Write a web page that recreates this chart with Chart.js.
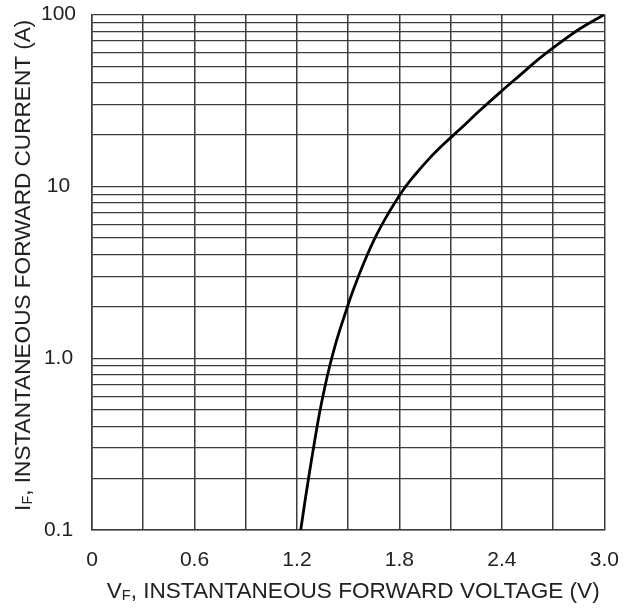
<!DOCTYPE html>
<html>
<head>
<meta charset="utf-8">
<script src="https://cdn.jsdelivr.net/npm/chart.js@4/dist/chart.umd.min.js"></script>
<style>
  html, body { margin: 0; padding: 0; background: #ffffff; }
  #wrap { width: 637px; height: 610px; }
</style>
</head>
<body>
<div id="wrap"><canvas id="c" width="637" height="610"></canvas></div>
<script>
// ---- data ----
const voltage = [1.222, 1.246, 1.275, 1.304, 1.333, 1.363, 1.392, 1.421, 1.450, 1.480, 1.509, 1.538, 1.567, 1.597, 1.655, 1.714, 1.772, 1.830, 1.889, 1.977, 2.064, 2.152, 2.269, 2.386, 2.503, 2.620, 2.737, 2.854, 3.0];
const current = [0.1, 0.145, 0.222, 0.332, 0.484, 0.677, 0.903, 1.16, 1.45, 1.79, 2.19, 2.62, 3.12, 3.69, 4.96, 6.40, 7.99, 9.78, 11.6, 14.6, 17.8, 21.4, 27.5, 35.0, 44.1, 55.5, 68.1, 82.3, 100];

const xTickValues = [0, 0.3, 0.6, 0.9, 1.2, 1.5, 1.8, 2.1, 2.4, 2.7, 3.0];
const xTickLabels = ['0', '', '0.6', '', '1.2', '', '1.8', '', '2.4', '', '3.0'];
const yGridValues = [0.1,0.2,0.3,0.4,0.5,0.6,0.7,0.8,0.9,1,2,3,4,5,6,7,8,9,10,20,30,40,50,60,70,80,90,100];
const yLabelValues = [0.1, 1, 10, 100];
const yTickLabels = ['0.1', '1.0', '10', '100'];

const xTitleParts = [{t:'V'}, {t:'F', sub:true}, {t:', INSTANTANEOUS FORWARD VOLTAGE (V)'}];
const yTitleParts = [{t:'I'}, {t:'F', sub:true}, {t:', INSTANTANEOUS FORWARD CURRENT (A)'}];

const FONT = '"Liberation Sans", Arial, sans-serif';
const TEXT = '#222222';
const GRID = '#3c3c3c';

function drawParts(ctx, parts, cx, cy) {
  const main = '22.6px ' + FONT, small = '14.5px ' + FONT;
  let w = 0;
  parts.forEach(p => { ctx.font = p.sub ? small : main; w += ctx.measureText(p.t).width; });
  let x = cx - w / 2;
  ctx.textAlign = 'left';
  ctx.textBaseline = 'middle';
  parts.forEach(p => {
    ctx.font = p.sub ? small : main;
    ctx.fillText(p.t, x, p.sub ? cy + 4 : cy);
    x += ctx.measureText(p.t).width;
  });
}

const axisTitles = {
  id: 'axisTitles',
  afterDraw(chart) {
    const {ctx, chartArea: ca} = chart;
    ctx.save();
    ctx.fillStyle = TEXT;
    drawParts(ctx, xTitleParts, (ca.left + ca.right) / 2 + 5, chart.height - 18);
    ctx.translate(24, (ca.top + ca.bottom) / 2 - 7);
    ctx.rotate(-Math.PI / 2);
    drawParts(ctx, yTitleParts, 0, 0);
    ctx.restore();
  }
};

new Chart(document.getElementById('c'), {
  type: 'line',
  data: {
    datasets: [{
      data: voltage.map((v, i) => ({x: v, y: current[i]})),
      borderColor: '#000000',
      borderWidth: 2.8,
      pointRadius: 0,
      cubicInterpolationMode: 'monotone',
      fill: false
    }]
  },
  options: {
    responsive: false,
    animation: false,
    devicePixelRatio: 1,
    layout: { padding: { top: 0, right: 29, left: 0, bottom: 0 } },
    plugins: { legend: { display: false }, tooltip: { enabled: false } },
    scales: {
      x: {
        type: 'linear',
        min: 0, max: 3,
        afterBuildTicks: s => { s.ticks = xTickValues.map(v => ({value: v})); },
        afterFit: s => { s.height = 80; },
        grid: { color: GRID, lineWidth: 1.5, drawTicks: false },
        border: { display: true, color: GRID, width: 1.5 },
        ticks: {
          autoSkip: false, maxRotation: 0, padding: 18,
          color: TEXT, font: { family: FONT, size: 21 },
          callback: (v, i) => xTickLabels[i]
        }
      },
      y: {
        type: 'logarithmic',
        min: 0.1, max: 100,
        afterBuildTicks: s => { s.ticks = yGridValues.map(v => ({value: v})); },
        afterFit: s => { s.width = 92; s.paddingTop = 14.5; s.paddingBottom = 0; },
        grid: { color: GRID, lineWidth: 1.3, drawTicks: false },
        border: { display: true, color: GRID, width: 1.5 },
        ticks: {
          autoSkip: false, padding: 16, crossAlign: 'center',
          color: TEXT, font: { family: FONT, size: 21 },
          callback: (v) => {
            const k = yLabelValues.findIndex(t => Math.abs(t - v) < 1e-9);
            return k >= 0 ? yTickLabels[k] : '';
          }
        }
      }
    }
  },
  plugins: [axisTitles]
});
</script>
</body>
</html>
